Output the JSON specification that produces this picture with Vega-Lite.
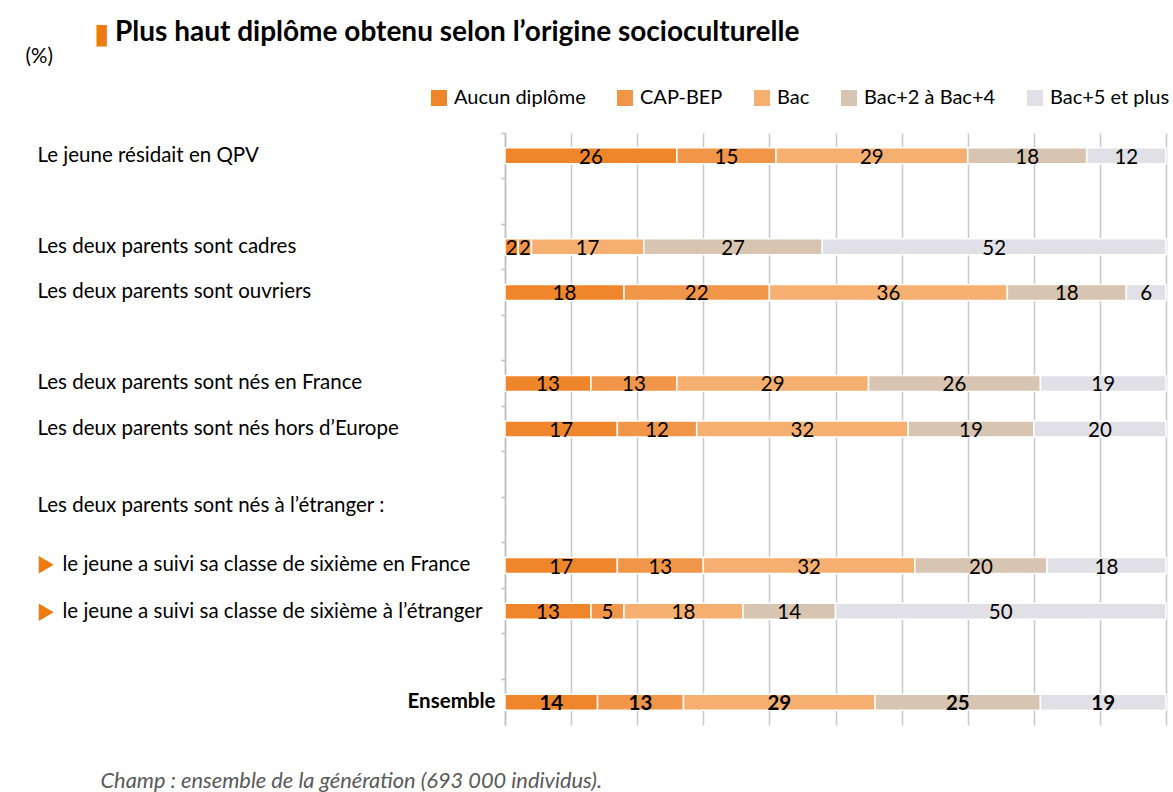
{
  "$schema": "https://vega.github.io/schema/vega-lite/v6.json",
  "width": 661,
  "height": 592,
  "autosize": {"type": "none"},
  "padding": {"left": 505, "top": 133, "right": 7, "bottom": 67},
  "background": "white",
  "config": {"font": "Lato", "view": {"stroke": null}},
  "title": {
    "text": "▮",
    "subtitle": "\u2800Plus haut diplôme obtenu selon l’origine socioculturelle",
    "anchor": "start",
    "frame": "group",
    "dx": -411,
    "dy": 9,
    "font": "DejaVu Sans",
    "fontSize": 28,
    "fontWeight": "normal",
    "color": "#EE7A12",
    "subtitleFont": "Lato",
    "subtitleFontSize": 28,
    "subtitleFontWeight": "bold",
    "subtitleColor": "black",
    "subtitlePadding": -30
  },
  "data": {
    "values": [
      {"cat": "Le jeune résidait en QPV", "niv": "Aucun diplôme", "ord": 1, "v": 26},
      {"cat": "Le jeune résidait en QPV", "niv": "CAP-BEP", "ord": 2, "v": 15},
      {"cat": "Le jeune résidait en QPV", "niv": "Bac", "ord": 3, "v": 29},
      {"cat": "Le jeune résidait en QPV", "niv": "Bac+2 à Bac+4", "ord": 4, "v": 18},
      {"cat": "Le jeune résidait en QPV", "niv": "Bac+5 et plus", "ord": 5, "v": 12},
      {"cat": "Les deux parents sont cadres", "niv": "Aucun diplôme", "ord": 1, "v": 2},
      {"cat": "Les deux parents sont cadres", "niv": "CAP-BEP", "ord": 2, "v": 2},
      {"cat": "Les deux parents sont cadres", "niv": "Bac", "ord": 3, "v": 17},
      {"cat": "Les deux parents sont cadres", "niv": "Bac+2 à Bac+4", "ord": 4, "v": 27},
      {"cat": "Les deux parents sont cadres", "niv": "Bac+5 et plus", "ord": 5, "v": 52},
      {"cat": "Les deux parents sont ouvriers", "niv": "Aucun diplôme", "ord": 1, "v": 18},
      {"cat": "Les deux parents sont ouvriers", "niv": "CAP-BEP", "ord": 2, "v": 22},
      {"cat": "Les deux parents sont ouvriers", "niv": "Bac", "ord": 3, "v": 36},
      {"cat": "Les deux parents sont ouvriers", "niv": "Bac+2 à Bac+4", "ord": 4, "v": 18},
      {"cat": "Les deux parents sont ouvriers", "niv": "Bac+5 et plus", "ord": 5, "v": 6},
      {"cat": "Les deux parents sont nés en France", "niv": "Aucun diplôme", "ord": 1, "v": 13},
      {"cat": "Les deux parents sont nés en France", "niv": "CAP-BEP", "ord": 2, "v": 13},
      {"cat": "Les deux parents sont nés en France", "niv": "Bac", "ord": 3, "v": 29},
      {"cat": "Les deux parents sont nés en France", "niv": "Bac+2 à Bac+4", "ord": 4, "v": 26},
      {"cat": "Les deux parents sont nés en France", "niv": "Bac+5 et plus", "ord": 5, "v": 19},
      {"cat": "Les deux parents sont nés hors d’Europe", "niv": "Aucun diplôme", "ord": 1, "v": 17},
      {"cat": "Les deux parents sont nés hors d’Europe", "niv": "CAP-BEP", "ord": 2, "v": 12},
      {"cat": "Les deux parents sont nés hors d’Europe", "niv": "Bac", "ord": 3, "v": 32},
      {"cat": "Les deux parents sont nés hors d’Europe", "niv": "Bac+2 à Bac+4", "ord": 4, "v": 19},
      {"cat": "Les deux parents sont nés hors d’Europe", "niv": "Bac+5 et plus", "ord": 5, "v": 20},
      {"cat": "le jeune a suivi sa classe de sixième en France", "niv": "Aucun diplôme", "ord": 1, "v": 17},
      {"cat": "le jeune a suivi sa classe de sixième en France", "niv": "CAP-BEP", "ord": 2, "v": 13},
      {"cat": "le jeune a suivi sa classe de sixième en France", "niv": "Bac", "ord": 3, "v": 32},
      {"cat": "le jeune a suivi sa classe de sixième en France", "niv": "Bac+2 à Bac+4", "ord": 4, "v": 20},
      {"cat": "le jeune a suivi sa classe de sixième en France", "niv": "Bac+5 et plus", "ord": 5, "v": 18},
      {"cat": "le jeune a suivi sa classe de sixième à l’étranger", "niv": "Aucun diplôme", "ord": 1, "v": 13},
      {"cat": "le jeune a suivi sa classe de sixième à l’étranger", "niv": "CAP-BEP", "ord": 2, "v": 5},
      {"cat": "le jeune a suivi sa classe de sixième à l’étranger", "niv": "Bac", "ord": 3, "v": 18},
      {"cat": "le jeune a suivi sa classe de sixième à l’étranger", "niv": "Bac+2 à Bac+4", "ord": 4, "v": 14},
      {"cat": "le jeune a suivi sa classe de sixième à l’étranger", "niv": "Bac+5 et plus", "ord": 5, "v": 50},
      {"cat": "Ensemble", "niv": "Aucun diplôme", "ord": 1, "v": 14},
      {"cat": "Ensemble", "niv": "CAP-BEP", "ord": 2, "v": 13},
      {"cat": "Ensemble", "niv": "Bac", "ord": 3, "v": 29},
      {"cat": "Ensemble", "niv": "Bac+2 à Bac+4", "ord": 4, "v": 25},
      {"cat": "Ensemble", "niv": "Bac+5 et plus", "ord": 5, "v": 19}
    ]
  },
  "transform": [
    {"stack": "v", "groupby": ["cat"], "sort": [{"field": "ord", "order": "ascending"}], "as": ["v0", "v1"]},
    {"calculate": "(datum.v0 + datum.v1) / 2", "as": "mid"}
  ],
  "encoding": {
    "y": {
      "field": "cat",
      "type": "nominal",
      "sort": null,
      "scale": {
        "domain": [
          "Le jeune résidait en QPV", "blank1",
          "Les deux parents sont cadres", "Les deux parents sont ouvriers", "blank2",
          "Les deux parents sont nés en France", "Les deux parents sont nés hors d’Europe", "blank3",
          "Les deux parents sont nés à l’étranger :",
          "le jeune a suivi sa classe de sixième en France",
          "le jeune a suivi sa classe de sixième à l’étranger", "blank4", "Ensemble"
        ],
        "paddingInner": 0,
        "paddingOuter": 0
      },
      "axis": {
        "orient": "left",
        "title": "(%)",
        "titleAngle": 0,
        "titleX": -480,
        "titleY": -77,
        "titleAlign": "left",
        "titleBaseline": "middle",
        "titleFont": "Lato",
        "titleFontSize": 20.5,
        "titleFontWeight": "normal",
        "titleColor": "black",
        "labelExpr": "(indexof(datum.value, 'blank') == 0 || indexof(datum.value, 'le jeune') == 0) ? '' : datum.value",
        "labelFont": "Lato",
        "labelFontSize": 20.5,
        "labelColor": "black",
        "labelLimit": 600,
        "labelAlign": {"condition": {"test": "datum.value == 'Ensemble'", "value": "right"}, "value": "left"},
        "labelPadding": {"condition": {"test": "datum.value == 'Ensemble'", "value": 6}, "value": 464},
        "labelFontWeight": {"condition": {"test": "datum.value == 'Ensemble'", "value": "bold"}, "value": "normal"},
        "labelOffset": {"condition": {"test": "indexof(datum.value, 'nés à') >= 0", "value": -14}, "value": 0},
        "labelBaseline": "middle",
        "bandPosition": 0,
        "tickSize": 4,
        "tickColor": "#BDBDC6",
        "tickWidth": 1.5,
        "domainColor": "#BDBDC6",
        "domainWidth": 1.5,
        "grid": false
      }
    }
  },
  "layer": [
    {
      "mark": {"type": "bar", "size": 16, "stroke": "white", "strokeWidth": 1.5},
      "encoding": {
        "x": {
          "field": "v0",
          "type": "quantitative",
          "scale": {"domain": [0, 100], "nice": false},
          "axis": {
            "orient": "bottom",
            "values": [0, 10, 20, 30, 40, 50, 60, 70, 80, 90, 100],
            "grid": true,
            "gridColor": "#C8C8D2",
            "gridWidth": 1.5,
            "labels": false,
            "ticks": false,
            "domain": false,
            "title": "Champ : ensemble de la génération (693 000 individus).",
            "titleX": -405,
            "titleY": 55,
            "titleAlign": "left",
            "titleBaseline": "middle",
            "titleFont": "Lato",
            "titleFontSize": 21.8,
            "titleFontStyle": "italic",
            "titleFontWeight": "normal",
            "titleColor": "#595959"
          }
        },
        "x2": {"field": "v1"},
        "color": {
          "field": "niv",
          "type": "nominal",
          "scale": {
            "domain": ["Aucun diplôme", "CAP-BEP", "Bac", "Bac+2 à Bac+4", "Bac+5 et plus"],
            "range": ["#F0862B", "#F19648", "#F5B071", "#D8C5B1", "#E1E0E6"]
          },
          "legend": {
            "orient": "none",
            "legendX": -76,
            "legendY": -45,
            "direction": "horizontal",
            "columns": 5,
            "title": null,
            "symbolType": "square",
            "symbolSize": 256,
            "symbolStrokeWidth": 0,
            "labelFont": "Lato",
            "labelFontSize": 20,
            "labelColor": "black",
            "labelOffset": 5,
            "columnPadding": 29
          }
        }
      }
    },
    {
      "transform": [{"filter": "datum.cat != 'Ensemble'"}],
      "mark": {"type": "text", "baseline": "middle", "dy": 2, "fontSize": 20.5, "font": "Lato", "color": "black"},
      "encoding": {
        "x": {"field": "mid", "type": "quantitative"},
        "text": {"field": "v", "type": "quantitative"}
      }
    },
    {
      "transform": [{"filter": "datum.cat == 'Ensemble'"}],
      "mark": {"type": "text", "baseline": "middle", "dy": 2, "fontSize": 20.5, "font": "Lato", "fontWeight": "bold", "color": "black"},
      "encoding": {
        "x": {"field": "mid", "type": "quantitative"},
        "text": {"field": "v", "type": "quantitative"}
      }
    },
    {
      "transform": [{"filter": "datum.ord == 0"}],
      "mark": {"type": "point", "filled": true, "color": "#EE7A12", "opacity": 1},
      "encoding": {
        "x": {"field": "mid", "type": "quantitative"},
        "shape": {
          "field": "cat",
          "type": "nominal",
          "scale": {
            "domain": ["le jeune a suivi sa classe de sixième en France", "le jeune a suivi sa classe de sixième à l’étranger"],
            "range": ["triangle-right", "triangle-right"]
          },
          "legend": {
            "orient": "none",
            "legendX": -469,
            "legendY": 421.5,
            "direction": "vertical",
            "title": null,
            "symbolSize": 300,
            "symbolFillColor": "#EE7A12",
            "symbolStrokeWidth": 0,
            "symbolOpacity": 1,
            "labelFont": "Lato",
            "labelFontSize": 20.5,
            "labelColor": "black",
            "labelLimit": 600,
            "labelOffset": 6,
            "rowPadding": 26.5
          }
        }
      }
    }
  ]
}
